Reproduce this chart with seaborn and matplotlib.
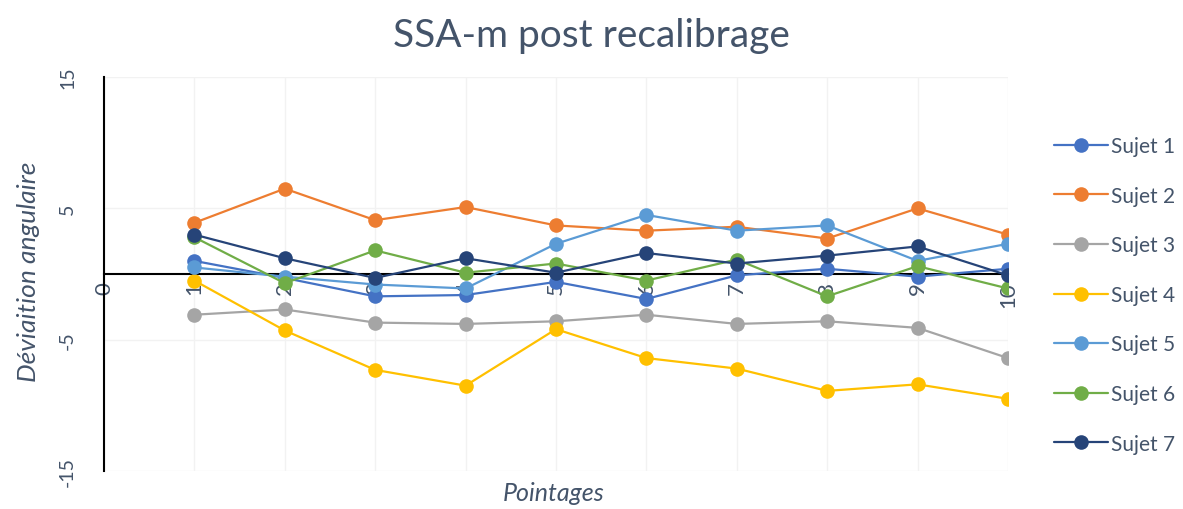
import matplotlib
matplotlib.use("Agg")
import matplotlib.pyplot as plt
import seaborn as sns
import pandas as pd

# Pointing trials and angular deviation per subject
pointages = [1, 2, 3, 4, 5, 6, 7, 8, 9, 10]
sujet_1 = [1.0, -0.3, -1.7, -1.6, -0.6, -1.9, -0.1, 0.4, -0.2, 0.4]
sujet_2 = [3.9, 6.5, 4.1, 5.1, 3.7, 3.3, 3.6, 2.7, 5.0, 3.0]
sujet_3 = [-3.1, -2.7, -3.7, -3.8, -3.6, -3.1, -3.8, -3.6, -4.1, -6.4]
sujet_4 = [-0.5, -4.3, -7.3, -8.5, -4.2, -6.4, -7.2, -8.9, -8.4, -9.5]
sujet_5 = [0.5, -0.2, -0.8, -1.1, 2.3, 4.5, 3.3, 3.7, 1.0, 2.3]
sujet_6 = [2.8, -0.7, 1.8, 0.1, 0.8, -0.5, 1.1, -1.7, 0.6, -1.1]
sujet_7 = [3.0, 1.2, -0.3, 1.2, 0.1, 1.6, 0.8, 1.4, 2.1, -0.1]

noms = ["Sujet 1", "Sujet 2", "Sujet 3", "Sujet 4", "Sujet 5", "Sujet 6", "Sujet 7"]
series = [sujet_1, sujet_2, sujet_3, sujet_4, sujet_5, sujet_6, sujet_7]
couleurs = ["#4472C4", "#ED7D31", "#A5A5A5", "#FFC000", "#5B9BD5", "#70AD47", "#264478"]

titre = "SSA-m post recalibrage"
label_x = "Pointages"
label_y = "Déviaition angulaire"
x_ticks = list(range(0, 11))
y_ticks = [-15, -5, 5, 15]

df = pd.DataFrame(
    [(p, v, n) for n, vals in zip(noms, series) for p, v in zip(pointages, vals)],
    columns=["Pointage", "Deviation", "Sujet"],
)

sns.set_theme(style="white")
plt.rcParams["font.family"] = ["Lato", "DejaVu Sans"]
texte = "#44546A"

fig = plt.figure(figsize=(11.83, 5.10), dpi=100)
ax = fig.add_axes([0.0879, 0.0745, 0.7641, 0.7725])

sns.lineplot(
    data=df, x="Pointage", y="Deviation", hue="Sujet", hue_order=noms,
    palette=couleurs, marker="o", markersize=10.5, markeredgewidth=0,
    linewidth=1.6, ax=ax, legend=True, zorder=3,
)

ax.set_xlim(0, 10)
ax.set_ylim(-15, 15)
ax.set_xticks(x_ticks)
ax.set_yticks(y_ticks)
ax.set_xticklabels([str(t) for t in x_ticks])
ax.set_yticklabels([str(t) for t in y_ticks])
ax.tick_params(axis="x", length=0, pad=5, labelrotation=90, labelcolor=texte,
               labelsize=16)
ax.tick_params(axis="y", length=0, pad=20, labelrotation=90, labelcolor=texte,
               labelsize=14)
for lab in ax.get_yticklabels():
    lab.set_va("center")

# horizontal axis crosses at zero
ax.spines["bottom"].set_position(("data", 0))
for s in ["top", "right"]:
    ax.spines[s].set_visible(False)
ax.spines["bottom"].set_color("black")
ax.spines["bottom"].set_linewidth(1.5)
ax.spines["left"].set_color("black")
ax.spines["left"].set_linewidth(1.5)
ax.spines["bottom"].set_zorder(2.6)

ax.grid(True, color="#F2F2F2", linewidth=1.0)
ax.set_xlabel("")
ax.set_ylabel("")

fig.text(0.468, 0.032, label_x, ha="center", va="center", fontsize=18,
         style="italic", color=texte)
fig.text(0.024, 0.467, label_y, ha="center", va="center", fontsize=19,
         style="italic", color=texte, rotation=90)
fig.text(0.5, 0.93, titre, ha="center", va="center", fontsize=28, color=texte)

handles, labels = ax.get_legend_handles_labels()
ax.get_legend().remove()
leg = fig.legend(
    handles, labels, loc="center left", bbox_to_anchor=(0.882, 0.42),
    frameon=False, fontsize=15, labelspacing=1.42, handlelength=2.6,
    handletextpad=0.15, borderpad=0,
)
for t in leg.get_texts():
    t.set_color(texte)

fig.savefig("out.png", dpi=100)
